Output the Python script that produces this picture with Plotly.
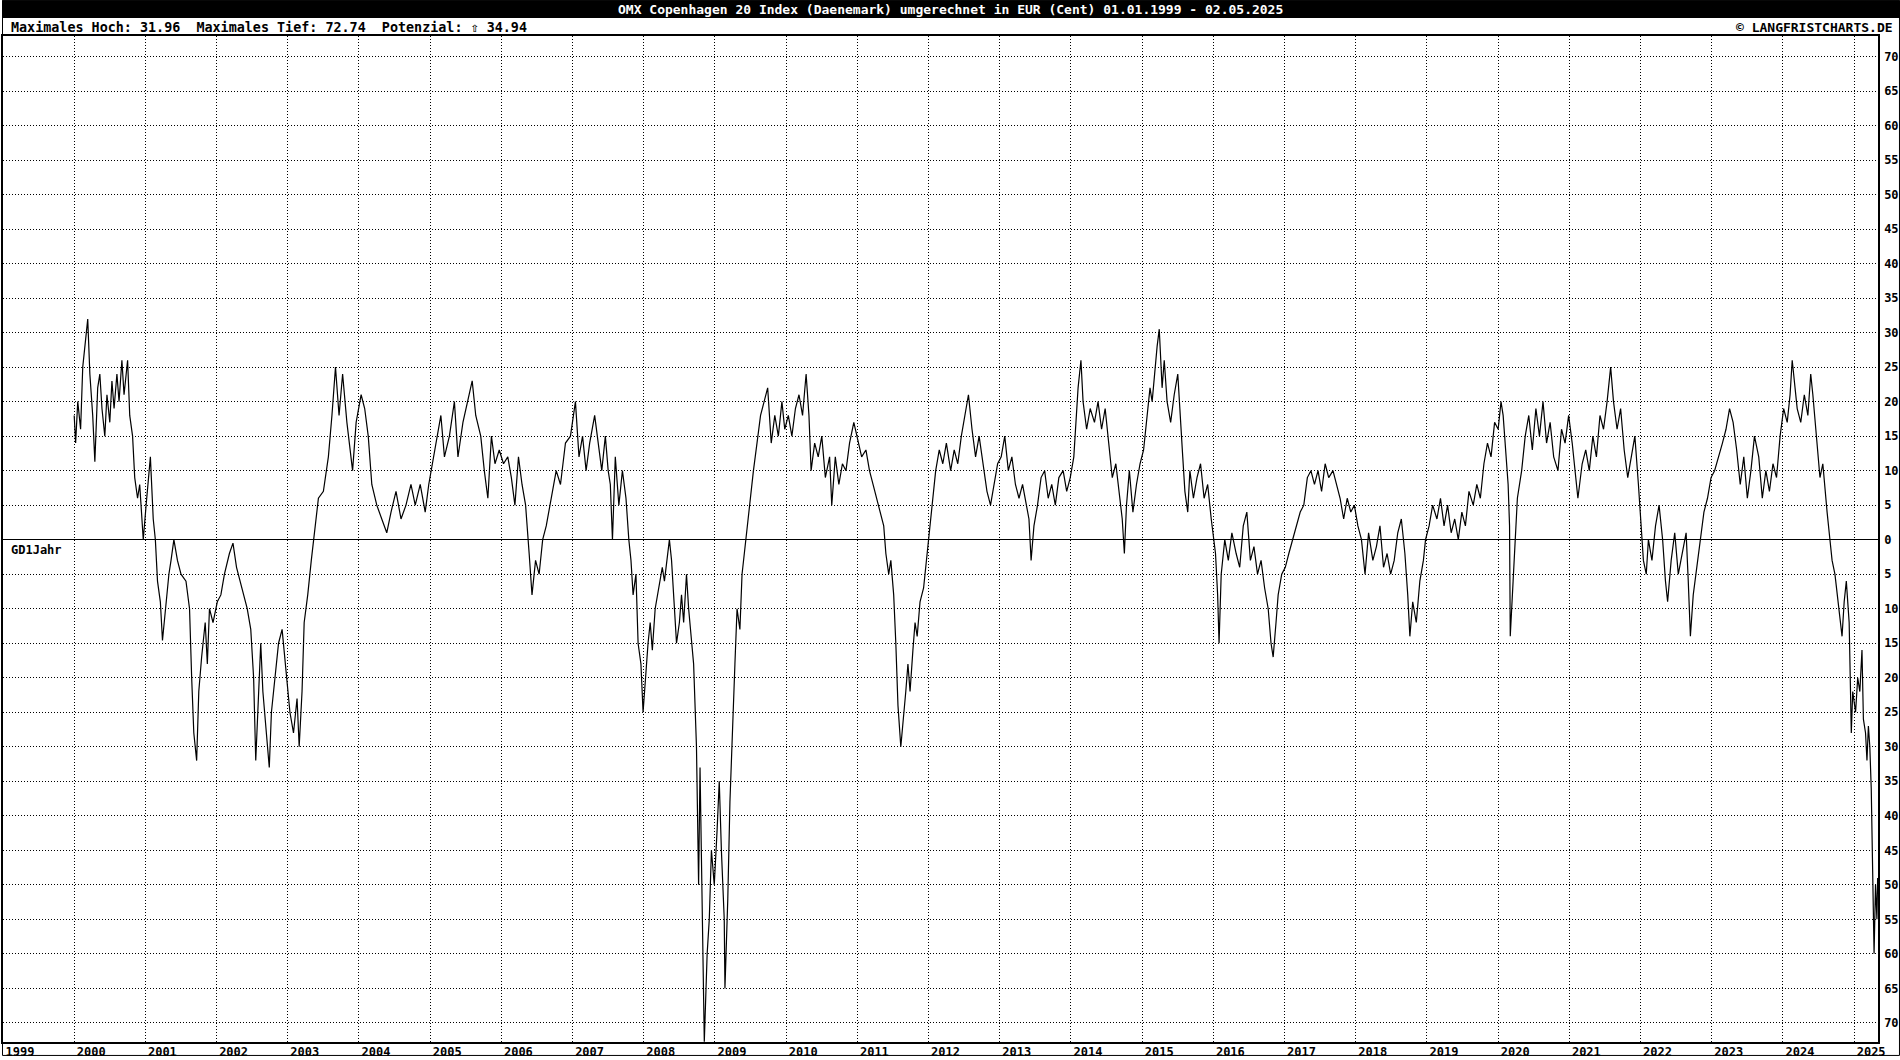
import plotly.graph_objects as go

# ---------------- data ----------------
t_year = [
    2000.00, 2000.02, 2000.05, 2000.09, 2000.12, 2000.15, 2000.19, 2000.22, 2000.26, 2000.29,
    2000.33, 2000.36, 2000.39, 2000.43, 2000.46, 2000.50, 2000.53, 2000.56, 2000.60, 2000.63,
    2000.67, 2000.70, 2000.75, 2000.78, 2000.82, 2000.85, 2000.89, 2000.92, 2000.97,
    2001.01, 2001.07, 2001.11, 2001.14, 2001.17, 2001.21, 2001.24, 2001.28, 2001.33, 2001.36,
    2001.40, 2001.45, 2001.50, 2001.57, 2001.62, 2001.65, 2001.68, 2001.72, 2001.75, 2001.79,
    2001.84, 2001.87, 2001.90, 2001.95,
    2002.01, 2002.06, 2002.11, 2002.18, 2002.23, 2002.28, 2002.33, 2002.38, 2002.43, 2002.48,
    2002.52, 2002.55, 2002.59, 2002.62, 2002.65, 2002.70, 2002.74, 2002.77, 2002.82, 2002.87,
    2002.92, 2002.98,
    2003.03, 2003.08, 2003.13, 2003.16, 2003.20, 2003.23, 2003.28, 2003.33, 2003.38, 2003.43,
    2003.50, 2003.57, 2003.62, 2003.67, 2003.72, 2003.77, 2003.83, 2003.88, 2003.91, 2003.96,
    2004.03, 2004.08, 2004.13, 2004.18, 2004.25, 2004.32, 2004.39, 2004.45, 2004.52, 2004.59,
    2004.66, 2004.73, 2004.79, 2004.86, 2004.93, 2004.98,
    2005.05, 2005.10, 2005.15, 2005.20, 2005.27, 2005.34, 2005.39, 2005.46, 2005.53, 2005.59,
    2005.64, 2005.71, 2005.76, 2005.81, 2005.86, 2005.91, 2005.97,
    2006.03, 2006.09, 2006.14, 2006.19, 2006.24, 2006.29, 2006.34, 2006.39, 2006.43, 2006.48,
    2006.53, 2006.58, 2006.63, 2006.70, 2006.77, 2006.83, 2006.90, 2006.97,
    2007.04, 2007.09, 2007.14, 2007.19, 2007.24, 2007.31, 2007.36, 2007.41, 2007.46, 2007.50,
    2007.53, 2007.56, 2007.60, 2007.65, 2007.70, 2007.75, 2007.79, 2007.82, 2007.85, 2007.89,
    2007.92, 2007.96, 2007.99,
    2008.02, 2008.06, 2008.09, 2008.12, 2008.16, 2008.21, 2008.26, 2008.29, 2008.33, 2008.36,
    2008.39, 2008.43, 2008.46, 2008.50, 2008.53, 2008.56, 2008.60, 2008.63, 2008.67, 2008.70,
    2008.74, 2008.77, 2008.79, 2008.82, 2008.84, 2008.85, 2008.89, 2008.92, 2008.95, 2008.99,
    2009.03, 2009.06, 2009.09, 2009.13, 2009.14, 2009.18, 2009.21, 2009.25, 2009.28, 2009.31,
    2009.35, 2009.38, 2009.43, 2009.48, 2009.54, 2009.59, 2009.64, 2009.69, 2009.74, 2009.79,
    2009.84, 2009.89, 2009.94, 2009.98,
    2010.03, 2010.08, 2010.13, 2010.18, 2010.23, 2010.28, 2010.32, 2010.35, 2010.40, 2010.45,
    2010.50, 2010.55, 2010.61, 2010.64, 2010.69, 2010.74, 2010.79, 2010.84, 2010.89, 2010.95,
    2011.01, 2011.06, 2011.12, 2011.17, 2011.22, 2011.27, 2011.32, 2011.37, 2011.40, 2011.44,
    2011.47, 2011.51, 2011.54, 2011.57, 2011.61, 2011.64, 2011.68, 2011.71, 2011.74, 2011.78,
    2011.81, 2011.84, 2011.88, 2011.93, 2011.98,
    2012.03, 2012.07, 2012.10, 2012.15, 2012.20, 2012.25, 2012.31, 2012.36, 2012.41, 2012.46,
    2012.51, 2012.56, 2012.61, 2012.66, 2012.71, 2012.76, 2012.82, 2012.87, 2012.92, 2012.97,
    2013.02, 2013.07, 2013.12, 2013.17, 2013.22, 2013.27, 2013.32, 2013.37, 2013.41, 2013.44,
    2013.48, 2013.53, 2013.58, 2013.63, 2013.68, 2013.73, 2013.78, 2013.83, 2013.89, 2013.94,
    2013.99,
    2014.04, 2014.07, 2014.10, 2014.14, 2014.17, 2014.22, 2014.27, 2014.33, 2014.38, 2014.43,
    2014.48, 2014.53, 2014.58, 2014.63, 2014.68, 2014.72, 2014.75, 2014.78, 2014.82, 2014.87,
    2014.92, 2014.97,
    2015.02, 2015.07, 2015.11, 2015.14, 2015.18, 2015.21, 2015.24, 2015.28, 2015.31, 2015.35,
    2015.40, 2015.45, 2015.50, 2015.53, 2015.57, 2015.60, 2015.64, 2015.67, 2015.72, 2015.77,
    2015.82, 2015.87, 2015.92, 2015.97,
    2016.03, 2016.06, 2016.08, 2016.11, 2016.16, 2016.21, 2016.26, 2016.32, 2016.37, 2016.42,
    2016.47, 2016.52, 2016.57, 2016.62, 2016.67, 2016.72, 2016.77, 2016.81, 2016.84, 2016.88,
    2016.91, 2016.96,
    2017.01, 2017.06, 2017.11, 2017.16, 2017.22, 2017.27, 2017.32, 2017.37, 2017.42, 2017.47,
    2017.52, 2017.57, 2017.62, 2017.68, 2017.73, 2017.78, 2017.83, 2017.88, 2017.93, 2017.98,
    2018.03, 2018.08, 2018.13, 2018.18, 2018.24, 2018.29, 2018.34, 2018.39, 2018.44, 2018.49,
    2018.54, 2018.59, 2018.64, 2018.69, 2018.73, 2018.76, 2018.80, 2018.85, 2018.90, 2018.95,
    2018.98,
    2019.03, 2019.08, 2019.14, 2019.19, 2019.24, 2019.29, 2019.34, 2019.39, 2019.44, 2019.49,
    2019.54, 2019.59, 2019.65, 2019.70, 2019.75, 2019.80, 2019.85, 2019.90, 2019.95,
    2020.00, 2020.04, 2020.07, 2020.10, 2020.14, 2020.16, 2020.17, 2020.21, 2020.24, 2020.27,
    2020.33, 2020.38, 2020.43, 2020.48, 2020.53, 2020.58, 2020.63, 2020.68, 2020.73, 2020.78,
    2020.84, 2020.89, 2020.94, 2020.99,
    2021.04, 2021.09, 2021.12, 2021.18, 2021.23, 2021.28, 2021.33, 2021.38, 2021.43, 2021.48,
    2021.53, 2021.58, 2021.62, 2021.67, 2021.72, 2021.77, 2021.82, 2021.87, 2021.92, 2021.97,
    2022.01, 2022.04, 2022.08, 2022.11, 2022.16, 2022.21, 2022.26, 2022.31, 2022.35, 2022.38,
    2022.43, 2022.48, 2022.53, 2022.58, 2022.64, 2022.67, 2022.70, 2022.74, 2022.79, 2022.84,
    2022.89, 2022.94, 2022.99,
    2023.04, 2023.10, 2023.15, 2023.20, 2023.25, 2023.30, 2023.35, 2023.40, 2023.45, 2023.50,
    2023.55, 2023.60, 2023.66, 2023.71, 2023.76, 2023.81, 2023.86, 2023.91, 2023.96,
    2024.01, 2024.06, 2024.10, 2024.13, 2024.17, 2024.20, 2024.25, 2024.30, 2024.35, 2024.39,
    2024.42, 2024.45, 2024.49, 2024.52, 2024.56, 2024.59, 2024.62, 2024.66, 2024.69, 2024.73,
    2024.76, 2024.79, 2024.83, 2024.86, 2024.89, 2024.93, 2024.96, 2024.98,
    2025.02, 2025.05, 2025.08, 2025.11, 2025.13, 2025.16, 2025.18, 2025.20, 2025.22, 2025.24,
    2025.26, 2025.28, 2025.30, 2025.32, 2025.33,
]

gd_pct = [
    18, 14, 20, 16, 25, 28, 31.96, 24, 18, 11.3,
    22, 24, 19, 15, 21, 17, 23, 19, 24, 20,
    26, 21, 26, 18, 15, 9, 6, 8, 0,
    5, 12, 3, 0, -6, -9, -14.6, -10, -5, -3,
    0, -3, -5, -6, -10, -20, -28, -32, -22, -17,
    -12, -18, -10, -12,
    -9, -8, -5, -2, -0.5, -4, -6, -8, -10, -13,
    -20, -32, -22, -15, -22, -28, -33, -25, -20, -15,
    -13, -20,
    -25, -28, -23, -30, -22, -12, -8, -3, 2, 6,
    7, 12, 18, 25, 18, 24, 17, 12, 10, 17,
    21, 19, 15, 8, 5, 3, 1, 4, 7, 3,
    5, 8, 5, 8, 4, 8,
    12, 15, 18, 12, 15, 20, 12, 17, 20, 23,
    18, 15, 10, 6, 15, 11, 13,
    11, 12, 9, 5, 12, 8, 5, -2, -8, -3,
    -5, 0, 2, 6, 10, 8, 14, 15,
    20, 12, 15, 10, 14, 18, 14, 10, 15, 10,
    8, 0, 12, 5, 10, 6, 0, -3, -8, -5,
    -15, -18, -25,
    -20, -15, -12, -16, -10, -7, -4, -6, -2, 0,
    -3, -10, -15, -12, -8, -12, -5, -10, -15, -18,
    -30, -50, -33, -55, -70, -72.74, -60, -55, -45, -50,
    -42, -35, -45, -55, -65, -52, -38, -28, -18, -10,
    -13, -5, 0, 5, 10, 14, 18, 20, 22, 14,
    18, 15, 20, 16,
    18, 15, 19, 21, 18, 24, 18, 10, 14, 12,
    15, 9, 12, 5, 12, 8, 11, 10, 14, 17,
    14, 12, 13, 10, 8, 6, 4, 2, -2, -5,
    -3, -8, -15, -24, -30, -27, -22, -18, -22, -16,
    -12, -14, -9, -7, -2,
    2, 6, 10, 13, 11, 14, 10, 13, 11, 15,
    18, 21, 16, 12, 15, 11, 7, 5, 8, 11,
    12, 15, 10, 12, 8, 6, 8, 5, 3, -3,
    2, 5, 9, 10, 6, 8, 5, 9, 10, 7,
    9,
    12, 18, 22, 26, 20, 16, 19, 17, 20, 16,
    19, 14, 9, 11, 6, 3, -2, 5, 10, 4,
    8, 11,
    13, 18, 22, 20, 25, 28, 30.5, 22, 26, 20,
    17, 21, 24, 18, 12, 7, 4, 10, 6, 9,
    11, 6, 8, 3,
    -2, -8, -15, -5, 0, -3, 1, -2, -4, 2,
    4, -3, -1, -5, -3, -7, -10, -15, -17, -12,
    -8, -5,
    -4, -2, 0, 2, 4, 5, 9, 10, 8, 10,
    7, 11, 9, 10, 8, 6, 3, 6, 4, 5,
    2, 0, -5, 1, -3, -1, 2, -4, -2, -5,
    -3, 1, 3, -2, -8, -14, -9, -12, -6, -3,
    0,
    2, 5, 3, 6, 2, 5, 1, 3, 0, 4,
    2, 7, 5, 8, 6, 11, 14, 12, 17,
    16, 20, 18, 14, 8, 2, -14, -6, 0, 6,
    10, 15, 18, 13, 19, 15, 20, 14, 17, 12,
    10, 16, 14, 18,
    14, 9, 6, 11, 13, 10, 15, 12, 18, 16,
    20, 25, 20, 16, 19, 13, 9, 12, 15, 8,
    2, -3, -5, 0, -3, 2, 5, 0, -6, -9,
    -3, 1, -5, -2, 1, -6, -14, -8, -4, 0,
    4, 6, 9,
    10, 12, 14, 16, 19, 17, 13, 8, 12, 6,
    10, 15, 12, 6, 10, 7, 11, 9, 15,
    19, 17, 21, 26, 22, 19, 17, 21, 18, 24,
    21, 17, 12, 9, 11, 7, 4, 0, -3, -5,
    -8, -10, -14, -9, -6, -12, -28, -22,
    -25, -20, -22, -16, -26, -28, -32, -27, -30, -36,
    -48, -60, -50, -55, -49,
]

year_ticks = list(range(1999, 2026))
year_labels = [str(y) for y in year_ticks]
y_ticks = list(range(-70, 75, 5))
y_labels = [str(abs(v)) for v in y_ticks]

title_text = "OMX Copenhagen 20 Index (Daenemark) umgerechnet in EUR (Cent) 01.01.1999 - 02.05.2025"
sub_text = "Maximales Hoch: 31.96  Maximales Tief: 72.74  Potenzial: \u21e7 34.94"
credit_text = "\u00a9 LANGFRISTCHARTS.DE"
ref_label = "GD1Jahr"

# ---------------- layout geometry ----------------
W, H = 1900, 1060
ML, MR, MT, MB = 1, 22, 36, 14
PW, PH = W - ML - MR, H - MT - MB


def px_x(p):
    return (p - ML) / PW


def px_y(p):
    return (H - MB - p) / PH


FONT = "DejaVu Sans Mono"

fig = go.Figure()
fig.add_trace(go.Scatter(
    x=t_year, y=gd_pct, mode="lines",
    line=dict(color="black", width=1.2),
    hoverinfo="skip", showlegend=False,
))

fig.update_layout(
    width=W, height=H, autosize=False,
    margin=dict(l=ML, r=MR, t=MT, b=MB, pad=0),
    paper_bgcolor="white", plot_bgcolor="white",
    showlegend=False,
    xaxis=dict(
        range=[1999.0, 2025.335],
        tickvals=year_ticks, ticktext=year_labels,
        showgrid=True, gridcolor="black", gridwidth=1, griddash="1px,2px",
        zeroline=False,
        showline=True, linecolor="black", linewidth=1.5, mirror=True,
        ticks="", ticklabelshift=17, ticklabelstandoff=-2,
        tickfont=dict(family=FONT, size=12, color="black", weight="bold"),
        fixedrange=True,
    ),
    yaxis=dict(
        range=[-72.77, 72.97], side="right",
        tickvals=y_ticks, ticktext=y_labels,
        showgrid=True, gridcolor="black", gridwidth=1, griddash="1px,2px",
        zeroline=True, zerolinecolor="black", zerolinewidth=1,
        showline=True, linecolor="black", linewidth=1.5, mirror=True,
        ticks="", ticklabelstandoff=2,
        tickfont=dict(family=FONT, size=12, color="black", weight="bold"),
        fixedrange=True,
    ),
    shapes=[
        # black title bar
        dict(type="rect", xref="paper", yref="paper",
             x0=px_x(0), x1=px_x(W), y0=px_y(18), y1=px_y(0),
             fillcolor="black", line=dict(width=0), layer="above"),
        # outer frame
        dict(type="rect", xref="paper", yref="paper",
             x0=px_x(0.5), x1=px_x(W - 0.5), y0=px_y(H - 0.5), y1=px_y(0.5),
             line=dict(color="black", width=1), fillcolor="rgba(0,0,0,0)"),
    ],
    annotations=[
        dict(text=title_text, xref="paper", yref="paper",
             x=px_x(W / 2), y=px_y(9), xanchor="center", yanchor="middle",
             showarrow=False,
             font=dict(family=FONT, size=13, color="white", weight="bold")),
        dict(text=sub_text, xref="paper", yref="paper",
             x=px_x(7), y=px_y(27), xanchor="left", yanchor="middle",
             showarrow=False,
             font=dict(family=FONT, size=13.4, color="black", weight="bold")),
        dict(text=credit_text, xref="paper", yref="paper",
             x=px_x(W - 5), y=px_y(27), xanchor="right", yanchor="middle",
             showarrow=False,
             font=dict(family=FONT, size=13, color="black", weight="bold")),
        dict(text=ref_label, xref="paper", yref="y",
             x=px_x(7), y=0, xanchor="left", yanchor="top", yshift=-1,
             showarrow=False,
             font=dict(family=FONT, size=12, color="black", weight="bold")),
    ],
)

fig.write_html("out.html", config={"displayModeBar": False},
               post_script="document.body.style.margin='0';document.body.style.overflow='hidden';")
